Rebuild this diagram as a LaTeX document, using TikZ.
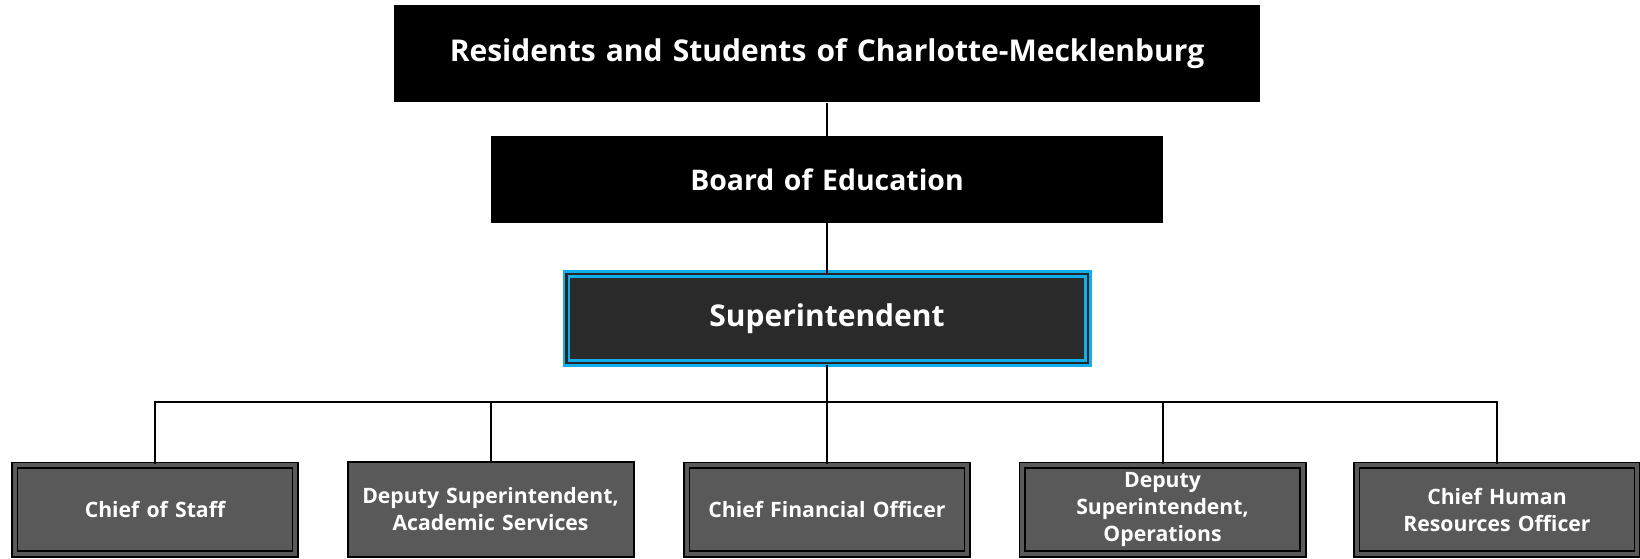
\documentclass[tikz,border=0pt]{standalone}
\usepackage{fontspec}
\setmainfont{Open Sans}[WordSpace=1.3]
\usepackage{tikz}
\usepackage{xcolor}

\definecolor{supgray}{HTML}{2A2A2A}
\definecolor{supblue}{HTML}{12AEEC}
\definecolor{rolegray}{HTML}{595959}

\tikzset{
  headbox/.style={fill=black, text=white, inner sep=0pt,
    font=\bfseries\fontsize{15}{18}\selectfont},
  supbox/.style={fill=supgray, draw=supblue, double=black!85, line width=1.3pt,
    double distance=1.2pt, text=white, inner sep=0pt,
    minimum width=260.7pt, minimum height=44.7pt,
    font=\bfseries\fontsize{15}{18}\selectfont},
  rolebox/.style={fill=rolegray, draw=black, double=rolegray, line width=0.8pt,
    double distance=2pt, text=white, inner sep=0pt, align=center,
    minimum width=140.4pt, minimum height=44.4pt,
    font=\bfseries\fontsize{10.6}{13.5}\selectfont},
  plainrole/.style={rolebox, double=none, line width=1pt,
    minimum width=143pt, minimum height=47.5pt},
  link/.style={draw=black, line width=1pt}
}

\begin{document}
\begin{tikzpicture}[x=0.5pt, y=-0.5pt]
    \useasboundingbox (0,0) rectangle (1640,558);

    % Top of the chart
    \node[headbox, minimum width=433pt, minimum height=48.6pt] (residents) at (827,53.8)
        {Residents and Students of Charlotte-Mecklenburg};
    \node[headbox, minimum width=336.3pt, minimum height=43.4pt,
        font=\bfseries\fontsize{14.2}{17}\selectfont] (board) at (827,179.4)
        {Board of Education};
    \node[supbox] (super) at (827,318.5) {Superintendent};

    % Direct reports
    \node[rolebox] (staff) at (155,509.5) {Chief of Staff};
    \node[plainrole] (academic) at (490.5,509.5) {Deputy Superintendent,\\Academic Services};
    \node[rolebox] (finance) at (827,509.5) {Chief Financial Officer};
    \node[rolebox] (operations) at (1162.5,509.5) {Deputy\\Superintendent,\\Operations};
    \node[rolebox] (hr) at (1497,509.5) {Chief Human\\Resources Officer};

    % Connectors
    \coordinate (bus) at (827,401.6);
    \draw[link] (residents) -- (board);
    \draw[link] (board) -- (super);
    \draw[link] (super) -- (bus);
    \draw[link] (staff.north) |- (bus) -| (hr.north);
    \draw[link] (bus -| academic.north) -- (academic.north);
    \draw[link] (bus) -- (finance.north);
    \draw[link] (bus -| operations.north) -- (operations.north);
\end{tikzpicture}
\end{document}
